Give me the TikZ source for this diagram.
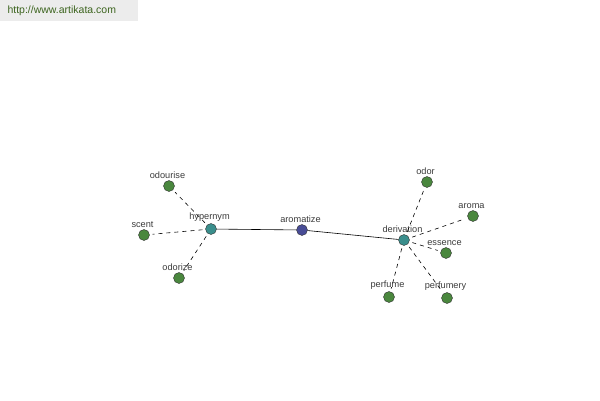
\documentclass[tikz,border=0pt]{standalone}
\usepackage{fontspec}
\setmainfont{Liberation Sans}
\usetikzlibrary{positioning}

\definecolor{leafgreen}{RGB}{74,135,62}
\definecolor{relteal}{RGB}{58,142,140}
\definecolor{wordblue}{RGB}{72,76,150}
\definecolor{lblgray}{RGB}{60,60,60}
\definecolor{sitegreen}{RGB}{60,100,30}
\definecolor{bannergray}{RGB}{236,236,236}

\begin{document}
\begin{tikzpicture}[
    x=1pt, y=-1pt,
    font=\fontsize{9.2}{11}\selectfont,
    %% ── Dot styles ──────────────────────────────────────────────────────
    dot/.style={
        circle, draw=black!80, thin,
        minimum size=11pt, inner sep=0pt,
        label={[text=lblgray, inner sep=1.5pt, xshift=-1.5pt]above:#1},
    },
    leaf/.style={dot=#1, fill=leafgreen},
    relnode/.style={dot=#1, fill=relteal},
    wordnode/.style={dot=#1, fill=wordblue},
    %% ── Line styles ─────────────────────────────────────────────────────
    mainlink/.style={draw=black, line width=0.6pt},
    sublink/.style={draw=black, line width=0.6pt, dash pattern=on 4pt off 4pt,
                    shorten <=3pt, shorten >=3pt},
]

\useasboundingbox (0,0) rectangle (600,400);

%%─────────────────────────────────────────────────────────────────────────
%% Banner
%%─────────────────────────────────────────────────────────────────────────
\node[fill=bannergray, minimum width=138pt, minimum height=21pt,
      anchor=north west, inner sep=0pt] (banner) at (0,0) {};
\node[text=sitegreen, font=\fontsize{10.5}{12}\selectfont, anchor=west]
    (site) at (4,11) {http://www.artikata.com};

%%─────────────────────────────────────────────────────────────────────────
%% Centre word and relations
%%─────────────────────────────────────────────────────────────────────────
\node[wordnode=aromatize] (aromatize) at (302,230) {};
\node[relnode=hypernym] (hypernym) at (211,229) {};
\node[relnode=derivation] (derivation) at (404,240) {};

%%─────────────────────────────────────────────────────────────────────────
%% Hypernym leaves
%%─────────────────────────────────────────────────────────────────────────
\node[leaf=odourise] (odourise) at (169,186) {};
\node[leaf=scent] (scent) at (144,235) {};
\node[leaf=odorize] (odorize) at (179,278) {};

%%─────────────────────────────────────────────────────────────────────────
%% Derivation leaves
%%─────────────────────────────────────────────────────────────────────────
\node[leaf=odor] (odor) at (427,182) {};
\node[leaf=aroma] (aroma) at (473,216) {};
\node[leaf=essence] (essence) at (446,253) {};
\node[leaf=perfume] (perfume) at (389,297) {};
\node[leaf=perfumery] (perfumery) at (447,298) {};

%%─────────────────────────────────────────────────────────────────────────
%% Links
%%─────────────────────────────────────────────────────────────────────────
\draw[mainlink] (hypernym) -- (aromatize);
\draw[mainlink] (aromatize) -- (derivation);

\foreach \leafname in {odourise, scent, odorize}
    \draw[sublink] (hypernym) -- (\leafname);

\foreach \leafname in {odor, aroma, essence, perfume, perfumery}
    \draw[sublink] (derivation) -- (\leafname);

\end{tikzpicture}
\end{document}
